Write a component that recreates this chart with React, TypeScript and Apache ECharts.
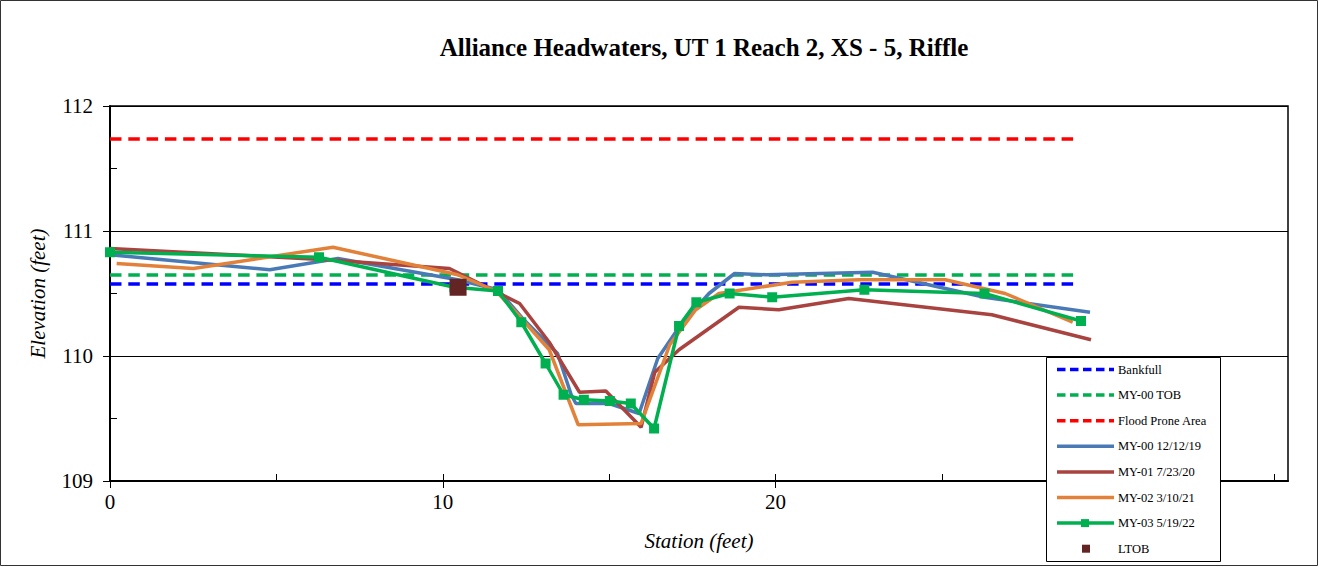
import React, { useEffect, useRef } from "react";
import * as echarts from "echarts";

const TITLE = "Alliance Headwaters, UT 1 Reach 2, XS - 5, Riffle";
const X_NAME = "Station (feet)";
const Y_NAME = "Elevation (feet)";

const X_MAJOR_TICKS = [0, 10, 20, 30];
const X_MINOR_TICKS = [5, 15, 25, 35];

// Reference (horizontal) lines
const REF_START = 0;
const REF_END = 29.1;
const BANKFULL = 110.576;
const TOB = 110.648;
const FLOOD_PRONE = 111.736;

// MY-00 12/12/19
const my00Station = [0, 4.8, 6.85, 10.45, 11.66, 12.4, 13.45, 13.86, 14.0, 15.0, 15.9, 16.46, 17.1, 18.0, 18.77, 19.72, 22.92, 26.28, 29.45];
const my00Elev = [110.81, 110.69, 110.78, 110.61, 110.53, 110.3, 110.02, 109.69, 109.62, 109.62, 109.54, 109.98, 110.23, 110.5, 110.66, 110.65, 110.67, 110.47, 110.35];

// MY-01 7/23/20
const my01Station = [0, 6.5, 10.2, 12.31, 13.2, 14.11, 14.9, 15.96, 16.37, 17.1, 18.9, 20.1, 22.2, 26.5, 29.48];
const my01Elev = [110.86, 110.77, 110.7, 110.42, 110.11, 109.71, 109.72, 109.43, 109.87, 110.05, 110.39, 110.37, 110.46, 110.33, 110.13];

// MY-02 3/10/21
const my02Station = [0.2, 2.5, 6.7, 10.45, 11.6, 12.3, 13.2, 14.07, 15.96, 16.82, 17.6, 18.3, 20.5, 22.5, 25.1, 26.9, 28.93];
const my02Elev = [110.74, 110.7, 110.87, 110.65, 110.52, 110.32, 110.05, 109.45, 109.46, 110.09, 110.37, 110.5, 110.59, 110.61, 110.61, 110.5, 110.27];

// MY-03 5/19/22
const my03Station = [0, 6.28, 10.35, 11.66, 12.36, 13.09, 13.63, 14.24, 15.02, 15.65, 16.35, 17.1, 17.62, 18.62, 19.9, 22.67, 26.28, 29.18];
const my03Elev = [110.83, 110.79, 110.55, 110.52, 110.27, 109.94, 109.69, 109.65, 109.64, 109.62, 109.42, 110.24, 110.43, 110.5, 110.47, 110.53, 110.5, 110.28];

// LTOB
const ltobStation = [10.46];
const ltobElev = [110.55];

const SERIES_NAMES = [
  "Bankfull",
  "MY-00 TOB",
  "Flood Prone Area",
  "MY-00 12/12/19",
  "MY-01 7/23/20",
  "MY-02 3/10/21",
  "MY-03 5/19/22",
  "LTOB",
];
const SERIES_COLORS = ["#0000FF", "#00B050", "#FF0000", "#4A7AB6", "#A8433F", "#E2823A", "#00B050", "#632523"];
const SERIES_DASHED = [true, true, true, false, false, false, false, false];

const FONT = '"Liberation Serif", "Times New Roman", serif';
const DASH = [11.5, 6.8];

const zip = (xs: number[], ys: number[]) => xs.map((x, i) => [x, ys[i]]);

export default function App() {
  const ref = useRef<HTMLDivElement>(null);

  useEffect(() => {
    document.body.style.margin = "0";
    document.body.style.background = "#fff";
    if (!ref.current) return;
    const chart = echarts.init(ref.current, undefined, { renderer: "svg" });

    const refLine = (name: string, v: number, color: string) => ({
      name,
      type: "line",
      data: [
        [REF_START, v],
        [REF_END, v],
      ],
      symbol: "none",
      lineStyle: { color, width: 3.5, type: DASH },
      z: 2,
    });
    const dataLine = (name: string, xs: number[], ys: number[], color: string, z: number) => ({
      name,
      type: "line",
      data: zip(xs, ys),
      symbol: "none",
      lineStyle: { color, width: 3.5 },
      itemStyle: { color },
      z,
    });

    // Legend drawn with graphic elements
    const legendLeft = 1046;
    const legendTop = 357;
    const legendItems: any[] = [];
    SERIES_NAMES.forEach((name, i) => {
      const cy = 369.5 + i * 25.6;
      const color = SERIES_COLORS[i];
      if (name !== "LTOB") {
        legendItems.push({
          type: "line",
          shape: { x1: 1057, y1: cy, x2: 1114, y2: cy },
          style: { stroke: color, lineWidth: 3.5, lineDash: SERIES_DASHED[i] ? [8.5, 4.5] : null },
          z: 11,
        });
      }
      if (name === "MY-03 5/19/22") {
        legendItems.push({ type: "rect", shape: { x: 1081, y: cy - 4, width: 8, height: 8 }, style: { fill: color }, z: 12 });
      }
      if (name === "LTOB") {
        legendItems.push({ type: "rect", shape: { x: 1082, y: cy - 4, width: 8, height: 8 }, style: { fill: color }, z: 12 });
      }
      legendItems.push({
        type: "text",
        x: 1118,
        y: cy,
        style: { text: name, font: `12.5px ${FONT}`, fill: "#000", align: "left", verticalAlign: "middle" },
        z: 12,
      });
    });

    const option: any = {
      animation: false,
      backgroundColor: "#fff",
      grid: {
        left: 110,
        top: 106,
        width: 1178,
        height: 375,
        show: true,
        borderColor: "#000",
        borderWidth: 1.5,
        backgroundColor: "transparent",
        containLabel: false,
      },
      xAxis: [
        {
          type: "value",
          min: 0,
          max: 35.4,
          interval: 10,
          name: X_NAME,
          nameLocation: "middle",
          nameGap: 49,
          nameTextStyle: { fontFamily: FONT, fontSize: 21, fontStyle: "italic", color: "#000" },
          axisLine: { show: true, lineStyle: { color: "#000", width: 2 } },
          axisTick: { show: true, length: 7, customValues: X_MAJOR_TICKS, lineStyle: { color: "#000", width: 1 } },
          axisLabel: { customValues: X_MAJOR_TICKS, fontFamily: FONT, fontSize: 21, color: "#000", margin: 10 },
          splitLine: { show: false },
        },
        {
          type: "value",
          min: 0,
          max: 35.4,
          position: "bottom",
          axisLine: { show: false },
          axisTick: { show: true, inside: true, length: 7, customValues: [...X_MAJOR_TICKS, ...X_MINOR_TICKS], lineStyle: { color: "#000", width: 1 } },
          axisLabel: { show: false },
          splitLine: { show: false },
        },
      ],
      yAxis: [
        {
          type: "value",
          min: 109,
          max: 112,
          interval: 1,
          name: Y_NAME,
          nameLocation: "middle",
          nameGap: 62,
          nameTextStyle: { fontFamily: FONT, fontSize: 21, fontStyle: "italic", color: "#000" },
          axisLine: { show: true, lineStyle: { color: "#000", width: 2 } },
          axisTick: { show: true, length: 7, lineStyle: { color: "#000", width: 1 } },
          axisLabel: { fontFamily: FONT, fontSize: 21, color: "#000", margin: 17 },
          splitLine: { show: true, lineStyle: { color: "#000", width: 1 } },
        },
        {
          type: "value",
          min: 109,
          max: 112,
          interval: 0.5,
          position: "left",
          axisLine: { show: false },
          axisTick: { show: true, inside: true, length: 7, lineStyle: { color: "#000", width: 1 } },
          axisLabel: { show: false },
          splitLine: { show: false },
        },
      ],
      series: [
        refLine(SERIES_NAMES[0], BANKFULL, SERIES_COLORS[0]),
        refLine(SERIES_NAMES[1], TOB, SERIES_COLORS[1]),
        refLine(SERIES_NAMES[2], FLOOD_PRONE, SERIES_COLORS[2]),
        dataLine(SERIES_NAMES[3], my00Station, my00Elev, SERIES_COLORS[3], 3),
        dataLine(SERIES_NAMES[4], my01Station, my01Elev, SERIES_COLORS[4], 3),
        dataLine(SERIES_NAMES[5], my02Station, my02Elev, SERIES_COLORS[5], 3),
        {
          name: SERIES_NAMES[6],
          type: "line",
          data: zip(my03Station, my03Elev),
          symbol: "rect",
          symbolSize: 10,
          showAllSymbol: true,
          lineStyle: { color: SERIES_COLORS[6], width: 3.5 },
          itemStyle: { color: SERIES_COLORS[6] },
          z: 4,
        },
        {
          name: SERIES_NAMES[7],
          type: "scatter",
          data: zip(ltobStation, ltobElev),
          symbol: "rect",
          symbolSize: 17,
          itemStyle: { color: SERIES_COLORS[7], opacity: 1 },
          z: 5,
        },
      ],
      graphic: [
        {
          type: "rect",
          shape: { x: 0.5, y: 0.5, width: 1317, height: 565 },
          style: { fill: "none", stroke: "#333", lineWidth: 1 },
          z: 1,
          silent: true,
        },
        {
          type: "text",
          x: 704,
          y: 47,
          style: { text: TITLE, font: `bold 25px ${FONT}`, fill: "#000", align: "center", verticalAlign: "middle" },
          z: 10,
        },
        {
          type: "rect",
          shape: { x: legendLeft + 0.5, y: legendTop + 0.5, width: 174, height: 204 },
          style: { fill: "#fff", stroke: "#000", lineWidth: 1 },
          z: 10,
        },
        ...legendItems,
      ],
    };

    chart.setOption(option);
    return () => chart.dispose();
  }, []);

  return <div ref={ref} style={{ width: 1319, height: 567 }} />;
}
